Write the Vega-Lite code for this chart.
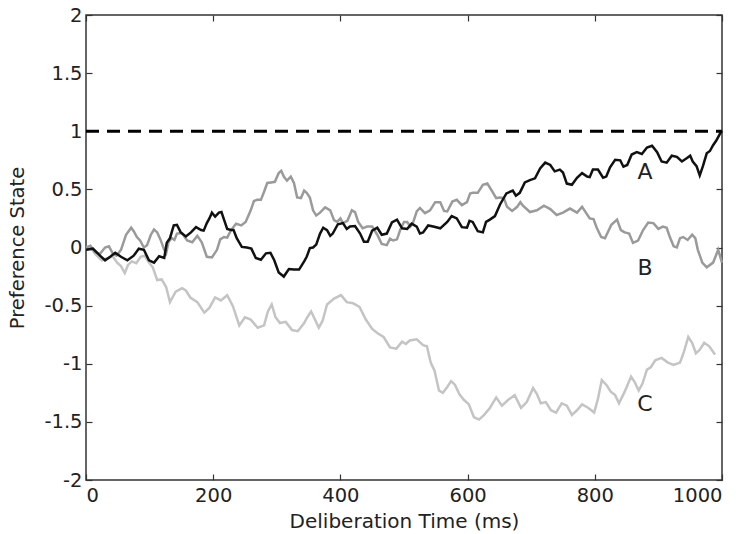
{
  "$schema": "https://vega.github.io/schema/vega-lite/v6.json",
  "width": 636,
  "height": 465,
  "autosize": "none",
  "padding": {"left": 86, "top": 15, "right": 20, "bottom": 54},
  "background": "white",
  "config": {
    "font": "DejaVu Sans",
    "view": {"stroke": "#333", "strokeWidth": 1.5},
    "axis": {"grid": false, "domain": false, "tickColor": "#333", "tickWidth": 1.2, "labelColor": "#222", "labelFont": "DejaVu Sans", "labelFontSize": 19.5, "titleFont": "DejaVu Sans", "titleColor": "#222", "titleFontSize": 20, "titleFontWeight": "normal"}
  },
  "datasets": {
    "walks": [
      {"series": "C", "t": 0, "v": -0.02}, {"series": "C", "t": 8, "v": -0.005}, {"series": "C", "t": 15, "v": -0.06}, {"series": "C", "t": 25, "v": -0.11},
      {"series": "C", "t": 35, "v": -0.09}, {"series": "C", "t": 42, "v": -0.075}, {"series": "C", "t": 49, "v": -0.13}, {"series": "C", "t": 55, "v": -0.16},
      {"series": "C", "t": 61, "v": -0.22}, {"series": "C", "t": 66, "v": -0.15}, {"series": "C", "t": 72, "v": -0.12}, {"series": "C", "t": 79, "v": -0.135},
      {"series": "C", "t": 86, "v": -0.08}, {"series": "C", "t": 92, "v": -0.07}, {"series": "C", "t": 99, "v": -0.13}, {"series": "C", "t": 105, "v": -0.17},
      {"series": "C", "t": 112, "v": -0.28}, {"series": "C", "t": 119, "v": -0.275}, {"series": "C", "t": 126, "v": -0.34}, {"series": "C", "t": 132, "v": -0.47},
      {"series": "C", "t": 141, "v": -0.38}, {"series": "C", "t": 151, "v": -0.35}, {"series": "C", "t": 157, "v": -0.37}, {"series": "C", "t": 164, "v": -0.43},
      {"series": "C", "t": 175, "v": -0.47}, {"series": "C", "t": 186, "v": -0.56}, {"series": "C", "t": 194, "v": -0.52}, {"series": "C", "t": 203, "v": -0.43},
      {"series": "C", "t": 212, "v": -0.455}, {"series": "C", "t": 222, "v": -0.41}, {"series": "C", "t": 231, "v": -0.505}, {"series": "C", "t": 241, "v": -0.67},
      {"series": "C", "t": 250, "v": -0.6}, {"series": "C", "t": 259, "v": -0.62}, {"series": "C", "t": 270, "v": -0.69}, {"series": "C", "t": 280, "v": -0.67},
      {"series": "C", "t": 286, "v": -0.55}, {"series": "C", "t": 292, "v": -0.49}, {"series": "C", "t": 298, "v": -0.6}, {"series": "C", "t": 305, "v": -0.65},
      {"series": "C", "t": 314, "v": -0.64}, {"series": "C", "t": 324, "v": -0.71}, {"series": "C", "t": 333, "v": -0.72}, {"series": "C", "t": 343, "v": -0.65},
      {"series": "C", "t": 348, "v": -0.6}, {"series": "C", "t": 354, "v": -0.55}, {"series": "C", "t": 360, "v": -0.62}, {"series": "C", "t": 366, "v": -0.69},
      {"series": "C", "t": 372, "v": -0.63}, {"series": "C", "t": 379, "v": -0.49}, {"series": "C", "t": 390, "v": -0.44}, {"series": "C", "t": 401, "v": -0.41},
      {"series": "C", "t": 410, "v": -0.47}, {"series": "C", "t": 420, "v": -0.48}, {"series": "C", "t": 430, "v": -0.51}, {"series": "C", "t": 440, "v": -0.62},
      {"series": "C", "t": 450, "v": -0.7}, {"series": "C", "t": 459, "v": -0.74}, {"series": "C", "t": 468, "v": -0.77}, {"series": "C", "t": 478, "v": -0.86},
      {"series": "C", "t": 488, "v": -0.87}, {"series": "C", "t": 497, "v": -0.81}, {"series": "C", "t": 503, "v": -0.83}, {"series": "C", "t": 509, "v": -0.8},
      {"series": "C", "t": 520, "v": -0.79}, {"series": "C", "t": 530, "v": -0.84}, {"series": "C", "t": 536, "v": -0.85}, {"series": "C", "t": 542, "v": -0.99},
      {"series": "C", "t": 548, "v": -1.06}, {"series": "C", "t": 555, "v": -1.23}, {"series": "C", "t": 561, "v": -1.25}, {"series": "C", "t": 568, "v": -1.2},
      {"series": "C", "t": 574, "v": -1.15}, {"series": "C", "t": 580, "v": -1.18}, {"series": "C", "t": 587, "v": -1.26}, {"series": "C", "t": 594, "v": -1.31},
      {"series": "C", "t": 602, "v": -1.35}, {"series": "C", "t": 610, "v": -1.46}, {"series": "C", "t": 618, "v": -1.48}, {"series": "C", "t": 626, "v": -1.44},
      {"series": "C", "t": 635, "v": -1.38}, {"series": "C", "t": 645, "v": -1.29}, {"series": "C", "t": 654, "v": -1.36}, {"series": "C", "t": 664, "v": -1.31},
      {"series": "C", "t": 674, "v": -1.27}, {"series": "C", "t": 684, "v": -1.38}, {"series": "C", "t": 693, "v": -1.33}, {"series": "C", "t": 703, "v": -1.21},
      {"series": "C", "t": 709, "v": -1.26}, {"series": "C", "t": 715, "v": -1.34}, {"series": "C", "t": 723, "v": -1.33}, {"series": "C", "t": 731, "v": -1.4},
      {"series": "C", "t": 739, "v": -1.42}, {"series": "C", "t": 748, "v": -1.34}, {"series": "C", "t": 756, "v": -1.36}, {"series": "C", "t": 764, "v": -1.44},
      {"series": "C", "t": 772, "v": -1.4}, {"series": "C", "t": 780, "v": -1.35}, {"series": "C", "t": 790, "v": -1.38}, {"series": "C", "t": 799, "v": -1.42},
      {"series": "C", "t": 805, "v": -1.3}, {"series": "C", "t": 811, "v": -1.14}, {"series": "C", "t": 818, "v": -1.18}, {"series": "C", "t": 825, "v": -1.24},
      {"series": "C", "t": 832, "v": -1.27}, {"series": "C", "t": 838, "v": -1.34}, {"series": "C", "t": 847, "v": -1.24}, {"series": "C", "t": 857, "v": -1.11},
      {"series": "C", "t": 863, "v": -1.16}, {"series": "C", "t": 869, "v": -1.23}, {"series": "C", "t": 875, "v": -1.17}, {"series": "C", "t": 882, "v": -1.05},
      {"series": "C", "t": 888, "v": -1.03}, {"series": "C", "t": 895, "v": -0.97}, {"series": "C", "t": 905, "v": -0.95}, {"series": "C", "t": 915, "v": -0.99},
      {"series": "C", "t": 924, "v": -1.01}, {"series": "C", "t": 934, "v": -0.99}, {"series": "C", "t": 940, "v": -0.9}, {"series": "C", "t": 947, "v": -0.77},
      {"series": "C", "t": 953, "v": -0.82}, {"series": "C", "t": 959, "v": -0.91}, {"series": "C", "t": 965, "v": -0.88}, {"series": "C", "t": 972, "v": -0.82},
      {"series": "C", "t": 980, "v": -0.85}, {"series": "C", "t": 989, "v": -0.92},

      {"series": "B", "t": 0, "v": 0.0}, {"series": "B", "t": 7, "v": 0.015}, {"series": "B", "t": 14, "v": -0.04}, {"series": "B", "t": 22, "v": -0.055},
      {"series": "B", "t": 30, "v": 0.0}, {"series": "B", "t": 36, "v": 0.01}, {"series": "B", "t": 42, "v": -0.05}, {"series": "B", "t": 48, "v": -0.07},
      {"series": "B", "t": 55, "v": -0.02}, {"series": "B", "t": 63, "v": 0.11}, {"series": "B", "t": 71, "v": 0.17}, {"series": "B", "t": 75, "v": 0.14},
      {"series": "B", "t": 80, "v": 0.09}, {"series": "B", "t": 85, "v": 0.06}, {"series": "B", "t": 91, "v": 0.0}, {"series": "B", "t": 96, "v": 0.02},
      {"series": "B", "t": 102, "v": 0.11}, {"series": "B", "t": 107, "v": 0.155}, {"series": "B", "t": 112, "v": 0.13}, {"series": "B", "t": 117, "v": 0.07},
      {"series": "B", "t": 123, "v": -0.02}, {"series": "B", "t": 126, "v": -0.05}, {"series": "B", "t": 130, "v": 0.05}, {"series": "B", "t": 135, "v": 0.08},
      {"series": "B", "t": 139, "v": 0.065}, {"series": "B", "t": 143, "v": 0.12}, {"series": "B", "t": 151, "v": 0.125}, {"series": "B", "t": 159, "v": 0.06},
      {"series": "B", "t": 167, "v": 0.045}, {"series": "B", "t": 175, "v": 0.1}, {"series": "B", "t": 182, "v": 0.045}, {"series": "B", "t": 190, "v": -0.08},
      {"series": "B", "t": 198, "v": -0.085}, {"series": "B", "t": 206, "v": -0.02}, {"series": "B", "t": 211, "v": 0.07}, {"series": "B", "t": 217, "v": 0.09},
      {"series": "B", "t": 222, "v": 0.085}, {"series": "B", "t": 228, "v": 0.15}, {"series": "B", "t": 236, "v": 0.205}, {"series": "B", "t": 244, "v": 0.19},
      {"series": "B", "t": 251, "v": 0.22}, {"series": "B", "t": 259, "v": 0.32}, {"series": "B", "t": 264, "v": 0.4}, {"series": "B", "t": 269, "v": 0.41},
      {"series": "B", "t": 275, "v": 0.41}, {"series": "B", "t": 280, "v": 0.48}, {"series": "B", "t": 285, "v": 0.555}, {"series": "B", "t": 291, "v": 0.56},
      {"series": "B", "t": 297, "v": 0.565}, {"series": "B", "t": 303, "v": 0.64}, {"series": "B", "t": 307, "v": 0.66}, {"series": "B", "t": 311, "v": 0.61},
      {"series": "B", "t": 316, "v": 0.575}, {"series": "B", "t": 322, "v": 0.61}, {"series": "B", "t": 327, "v": 0.555}, {"series": "B", "t": 332, "v": 0.43},
      {"series": "B", "t": 338, "v": 0.425}, {"series": "B", "t": 343, "v": 0.49}, {"series": "B", "t": 347, "v": 0.47}, {"series": "B", "t": 352, "v": 0.43},
      {"series": "B", "t": 357, "v": 0.32}, {"series": "B", "t": 362, "v": 0.275}, {"series": "B", "t": 368, "v": 0.3}, {"series": "B", "t": 376, "v": 0.345},
      {"series": "B", "t": 384, "v": 0.32}, {"series": "B", "t": 390, "v": 0.235}, {"series": "B", "t": 395, "v": 0.22}, {"series": "B", "t": 400, "v": 0.25},
      {"series": "B", "t": 404, "v": 0.21}, {"series": "B", "t": 411, "v": 0.23}, {"series": "B", "t": 418, "v": 0.32}, {"series": "B", "t": 423, "v": 0.305},
      {"series": "B", "t": 428, "v": 0.22}, {"series": "B", "t": 435, "v": 0.165}, {"series": "B", "t": 442, "v": 0.18}, {"series": "B", "t": 450, "v": 0.18},
      {"series": "B", "t": 458, "v": 0.11}, {"series": "B", "t": 465, "v": 0.03}, {"series": "B", "t": 473, "v": 0.02}, {"series": "B", "t": 478, "v": 0.075},
      {"series": "B", "t": 483, "v": 0.06}, {"series": "B", "t": 489, "v": 0.07}, {"series": "B", "t": 494, "v": 0.15}, {"series": "B", "t": 500, "v": 0.22},
      {"series": "B", "t": 505, "v": 0.22}, {"series": "B", "t": 510, "v": 0.18}, {"series": "B", "t": 514, "v": 0.21}, {"series": "B", "t": 520, "v": 0.31},
      {"series": "B", "t": 525, "v": 0.34}, {"series": "B", "t": 533, "v": 0.295}, {"series": "B", "t": 541, "v": 0.32}, {"series": "B", "t": 549, "v": 0.39},
      {"series": "B", "t": 557, "v": 0.39}, {"series": "B", "t": 563, "v": 0.315}, {"series": "B", "t": 568, "v": 0.31}, {"series": "B", "t": 576, "v": 0.395},
      {"series": "B", "t": 583, "v": 0.41}, {"series": "B", "t": 591, "v": 0.365}, {"series": "B", "t": 599, "v": 0.39}, {"series": "B", "t": 604, "v": 0.465},
      {"series": "B", "t": 608, "v": 0.47}, {"series": "B", "t": 616, "v": 0.47}, {"series": "B", "t": 624, "v": 0.54}, {"series": "B", "t": 631, "v": 0.55},
      {"series": "B", "t": 638, "v": 0.49}, {"series": "B", "t": 645, "v": 0.425}, {"series": "B", "t": 651, "v": 0.43}, {"series": "B", "t": 657, "v": 0.425},
      {"series": "B", "t": 662, "v": 0.35}, {"series": "B", "t": 670, "v": 0.315}, {"series": "B", "t": 678, "v": 0.35}, {"series": "B", "t": 683, "v": 0.39},
      {"series": "B", "t": 687, "v": 0.36}, {"series": "B", "t": 698, "v": 0.305}, {"series": "B", "t": 709, "v": 0.32}, {"series": "B", "t": 720, "v": 0.36},
      {"series": "B", "t": 730, "v": 0.33}, {"series": "B", "t": 740, "v": 0.28}, {"series": "B", "t": 750, "v": 0.3}, {"series": "B", "t": 761, "v": 0.335},
      {"series": "B", "t": 772, "v": 0.3}, {"series": "B", "t": 780, "v": 0.35}, {"series": "B", "t": 786, "v": 0.3}, {"series": "B", "t": 792, "v": 0.25},
      {"series": "B", "t": 798, "v": 0.245}, {"series": "B", "t": 803, "v": 0.17}, {"series": "B", "t": 810, "v": 0.09}, {"series": "B", "t": 816, "v": 0.08},
      {"series": "B", "t": 826, "v": 0.195}, {"series": "B", "t": 835, "v": 0.24}, {"series": "B", "t": 841, "v": 0.15}, {"series": "B", "t": 847, "v": 0.13},
      {"series": "B", "t": 854, "v": 0.12}, {"series": "B", "t": 860, "v": 0.04}, {"series": "B", "t": 868, "v": 0.06}, {"series": "B", "t": 876, "v": 0.15},
      {"series": "B", "t": 884, "v": 0.215}, {"series": "B", "t": 892, "v": 0.21}, {"series": "B", "t": 900, "v": 0.16}, {"series": "B", "t": 907, "v": 0.18},
      {"series": "B", "t": 913, "v": 0.17}, {"series": "B", "t": 918, "v": 0.09}, {"series": "B", "t": 924, "v": 0.01}, {"series": "B", "t": 929, "v": 0.0},
      {"series": "B", "t": 934, "v": 0.08}, {"series": "B", "t": 939, "v": 0.09}, {"series": "B", "t": 946, "v": 0.065}, {"series": "B", "t": 953, "v": 0.11},
      {"series": "B", "t": 958, "v": 0.08}, {"series": "B", "t": 962, "v": -0.02}, {"series": "B", "t": 969, "v": -0.13}, {"series": "B", "t": 976, "v": -0.17},
      {"series": "B", "t": 986, "v": -0.13}, {"series": "B", "t": 994, "v": -0.02}, {"series": "B", "t": 1000, "v": -0.13},

      {"series": "A", "t": 0, "v": -0.02}, {"series": "A", "t": 11, "v": -0.01}, {"series": "A", "t": 22, "v": -0.07}, {"series": "A", "t": 30, "v": -0.11},
      {"series": "A", "t": 38, "v": -0.08}, {"series": "A", "t": 46, "v": -0.045}, {"series": "A", "t": 55, "v": -0.08}, {"series": "A", "t": 65, "v": -0.11},
      {"series": "A", "t": 75, "v": -0.07}, {"series": "A", "t": 83, "v": -0.01}, {"series": "A", "t": 91, "v": -0.02}, {"series": "A", "t": 99, "v": -0.11},
      {"series": "A", "t": 107, "v": -0.13}, {"series": "A", "t": 115, "v": -0.075}, {"series": "A", "t": 123, "v": -0.09}, {"series": "A", "t": 127, "v": 0.04},
      {"series": "A", "t": 132, "v": 0.08}, {"series": "A", "t": 138, "v": 0.19}, {"series": "A", "t": 143, "v": 0.195}, {"series": "A", "t": 149, "v": 0.13},
      {"series": "A", "t": 157, "v": 0.095}, {"series": "A", "t": 165, "v": 0.13}, {"series": "A", "t": 173, "v": 0.175}, {"series": "A", "t": 181, "v": 0.15},
      {"series": "A", "t": 185, "v": 0.145}, {"series": "A", "t": 190, "v": 0.21}, {"series": "A", "t": 194, "v": 0.25}, {"series": "A", "t": 198, "v": 0.3},
      {"series": "A", "t": 203, "v": 0.265}, {"series": "A", "t": 209, "v": 0.3}, {"series": "A", "t": 213, "v": 0.305}, {"series": "A", "t": 217, "v": 0.24},
      {"series": "A", "t": 222, "v": 0.16}, {"series": "A", "t": 228, "v": 0.15}, {"series": "A", "t": 232, "v": 0.15}, {"series": "A", "t": 237, "v": 0.08},
      {"series": "A", "t": 245, "v": 0.005}, {"series": "A", "t": 253, "v": 0.0}, {"series": "A", "t": 260, "v": -0.01}, {"series": "A", "t": 267, "v": -0.09},
      {"series": "A", "t": 275, "v": -0.105}, {"series": "A", "t": 283, "v": -0.05}, {"series": "A", "t": 290, "v": -0.045}, {"series": "A", "t": 296, "v": -0.11},
      {"series": "A", "t": 303, "v": -0.215}, {"series": "A", "t": 311, "v": -0.25}, {"series": "A", "t": 319, "v": -0.185}, {"series": "A", "t": 327, "v": -0.19},
      {"series": "A", "t": 335, "v": -0.19}, {"series": "A", "t": 343, "v": -0.12}, {"series": "A", "t": 347, "v": -0.08}, {"series": "A", "t": 352, "v": -0.005},
      {"series": "A", "t": 357, "v": 0.0}, {"series": "A", "t": 362, "v": 0.025}, {"series": "A", "t": 368, "v": 0.12}, {"series": "A", "t": 373, "v": 0.17},
      {"series": "A", "t": 379, "v": 0.15}, {"series": "A", "t": 384, "v": 0.1}, {"series": "A", "t": 388, "v": 0.12}, {"series": "A", "t": 396, "v": 0.2},
      {"series": "A", "t": 404, "v": 0.21}, {"series": "A", "t": 410, "v": 0.16}, {"series": "A", "t": 415, "v": 0.18}, {"series": "A", "t": 423, "v": 0.185},
      {"series": "A", "t": 431, "v": 0.12}, {"series": "A", "t": 437, "v": 0.05}, {"series": "A", "t": 443, "v": 0.05}, {"series": "A", "t": 450, "v": 0.145},
      {"series": "A", "t": 458, "v": 0.17}, {"series": "A", "t": 465, "v": 0.11}, {"series": "A", "t": 473, "v": 0.12}, {"series": "A", "t": 481, "v": 0.215},
      {"series": "A", "t": 489, "v": 0.24}, {"series": "A", "t": 497, "v": 0.165}, {"series": "A", "t": 505, "v": 0.16}, {"series": "A", "t": 512, "v": 0.205},
      {"series": "A", "t": 520, "v": 0.18}, {"series": "A", "t": 525, "v": 0.12}, {"series": "A", "t": 530, "v": 0.13}, {"series": "A", "t": 538, "v": 0.19},
      {"series": "A", "t": 546, "v": 0.18}, {"series": "A", "t": 557, "v": 0.165}, {"series": "A", "t": 568, "v": 0.22}, {"series": "A", "t": 575, "v": 0.27},
      {"series": "A", "t": 583, "v": 0.25}, {"series": "A", "t": 591, "v": 0.175}, {"series": "A", "t": 599, "v": 0.17}, {"series": "A", "t": 603, "v": 0.23},
      {"series": "A", "t": 608, "v": 0.22}, {"series": "A", "t": 616, "v": 0.14}, {"series": "A", "t": 624, "v": 0.13}, {"series": "A", "t": 629, "v": 0.22},
      {"series": "A", "t": 635, "v": 0.24}, {"series": "A", "t": 643, "v": 0.27}, {"series": "A", "t": 651, "v": 0.37}, {"series": "A", "t": 661, "v": 0.465},
      {"series": "A", "t": 671, "v": 0.49}, {"series": "A", "t": 676, "v": 0.445}, {"series": "A", "t": 682, "v": 0.47}, {"series": "A", "t": 690, "v": 0.56},
      {"series": "A", "t": 698, "v": 0.58}, {"series": "A", "t": 706, "v": 0.595}, {"series": "A", "t": 714, "v": 0.68}, {"series": "A", "t": 722, "v": 0.73},
      {"series": "A", "t": 730, "v": 0.71}, {"series": "A", "t": 737, "v": 0.655}, {"series": "A", "t": 745, "v": 0.67}, {"series": "A", "t": 750, "v": 0.645},
      {"series": "A", "t": 756, "v": 0.55}, {"series": "A", "t": 764, "v": 0.54}, {"series": "A", "t": 772, "v": 0.6}, {"series": "A", "t": 780, "v": 0.64},
      {"series": "A", "t": 788, "v": 0.61}, {"series": "A", "t": 792, "v": 0.605}, {"series": "A", "t": 797, "v": 0.67}, {"series": "A", "t": 805, "v": 0.67},
      {"series": "A", "t": 813, "v": 0.6}, {"series": "A", "t": 818, "v": 0.61}, {"series": "A", "t": 824, "v": 0.69}, {"series": "A", "t": 832, "v": 0.755},
      {"series": "A", "t": 840, "v": 0.75}, {"series": "A", "t": 845, "v": 0.695}, {"series": "A", "t": 851, "v": 0.71}, {"series": "A", "t": 858, "v": 0.8},
      {"series": "A", "t": 866, "v": 0.82}, {"series": "A", "t": 874, "v": 0.805}, {"series": "A", "t": 882, "v": 0.86}, {"series": "A", "t": 890, "v": 0.875},
      {"series": "A", "t": 898, "v": 0.82}, {"series": "A", "t": 905, "v": 0.74}, {"series": "A", "t": 913, "v": 0.73}, {"series": "A", "t": 921, "v": 0.79},
      {"series": "A", "t": 929, "v": 0.78}, {"series": "A", "t": 937, "v": 0.74}, {"series": "A", "t": 945, "v": 0.77}, {"series": "A", "t": 950, "v": 0.79},
      {"series": "A", "t": 954, "v": 0.74}, {"series": "A", "t": 960, "v": 0.7}, {"series": "A", "t": 965, "v": 0.62}, {"series": "A", "t": 970, "v": 0.7},
      {"series": "A", "t": 976, "v": 0.81}, {"series": "A", "t": 981, "v": 0.83}, {"series": "A", "t": 986, "v": 0.88}, {"series": "A", "t": 991, "v": 0.92},
      {"series": "A", "t": 997, "v": 0.98}, {"series": "A", "t": 1000, "v": 1.0}
    ],
    "threshold": [{"t0": 0, "t1": 1000, "v": 1}],
    "labels": [
      {"t": 879, "v": 0.65, "label": "A"},
      {"t": 879, "v": -0.18, "label": "B"},
      {"t": 879, "v": -1.35, "label": "C"}
    ]
  },
  "resolve": {"axis": {"x": "independent", "y": "independent"}},
  "layer": [
    {
      "data": {"name": "walks"},
      "mark": {"type": "line", "strokeWidth": 2.5, "interpolate": "linear"},
      "encoding": {
        "x": {"field": "t", "type": "quantitative", "scale": {"domain": [0, 1000], "nice": false},
          "axis": {"orient": "bottom", "values": [0, 200, 400, 600, 800, 1000], "format": "d", "tickSize": -6, "labelPadding": 12, "title": "Deliberation Time (ms)", "titlePadding": 7}},
        "y": {"field": "v", "type": "quantitative", "scale": {"domain": [-2, 2], "nice": false},
          "axis": {"orient": "left", "values": [-2, -1.5, -1, -0.5, 0, 0.5, 1, 1.5, 2], "labelExpr": "'' + datum.value", "tickSize": -6, "labelPadding": 10, "title": "Preference State", "titlePadding": 16, "titleFontSize": 19.5}},
        "color": {"field": "series", "type": "nominal", "legend": null,
          "scale": {"domain": ["A", "B", "C"], "range": ["#111111", "#9a9a9a", "#c4c4c4"]}},
        "order": {"field": "t", "type": "quantitative"}
      }
    },
    {
      "data": {"name": "threshold"},
      "mark": {"type": "rule", "color": "#000", "strokeWidth": 3, "strokeDash": [13, 8]},
      "encoding": {
        "x": {"field": "t0", "type": "quantitative",
          "axis": {"orient": "top", "values": [0, 200, 400, 600, 800, 1000], "tickSize": -6, "labels": false, "title": null}},
        "x2": {"field": "t1"},
        "y": {"field": "v", "type": "quantitative",
          "axis": {"orient": "right", "values": [-2, -1.5, -1, -0.5, 0, 0.5, 1, 1.5, 2], "tickSize": -6, "labels": false, "title": null}}
      }
    },
    {
      "data": {"name": "labels"},
      "mark": {"type": "text", "fontSize": 22, "color": "#222", "font": "DejaVu Sans"},
      "encoding": {
        "x": {"field": "t", "type": "quantitative", "axis": null},
        "y": {"field": "v", "type": "quantitative", "axis": null},
        "text": {"field": "label"}
      }
    }
  ]
}
